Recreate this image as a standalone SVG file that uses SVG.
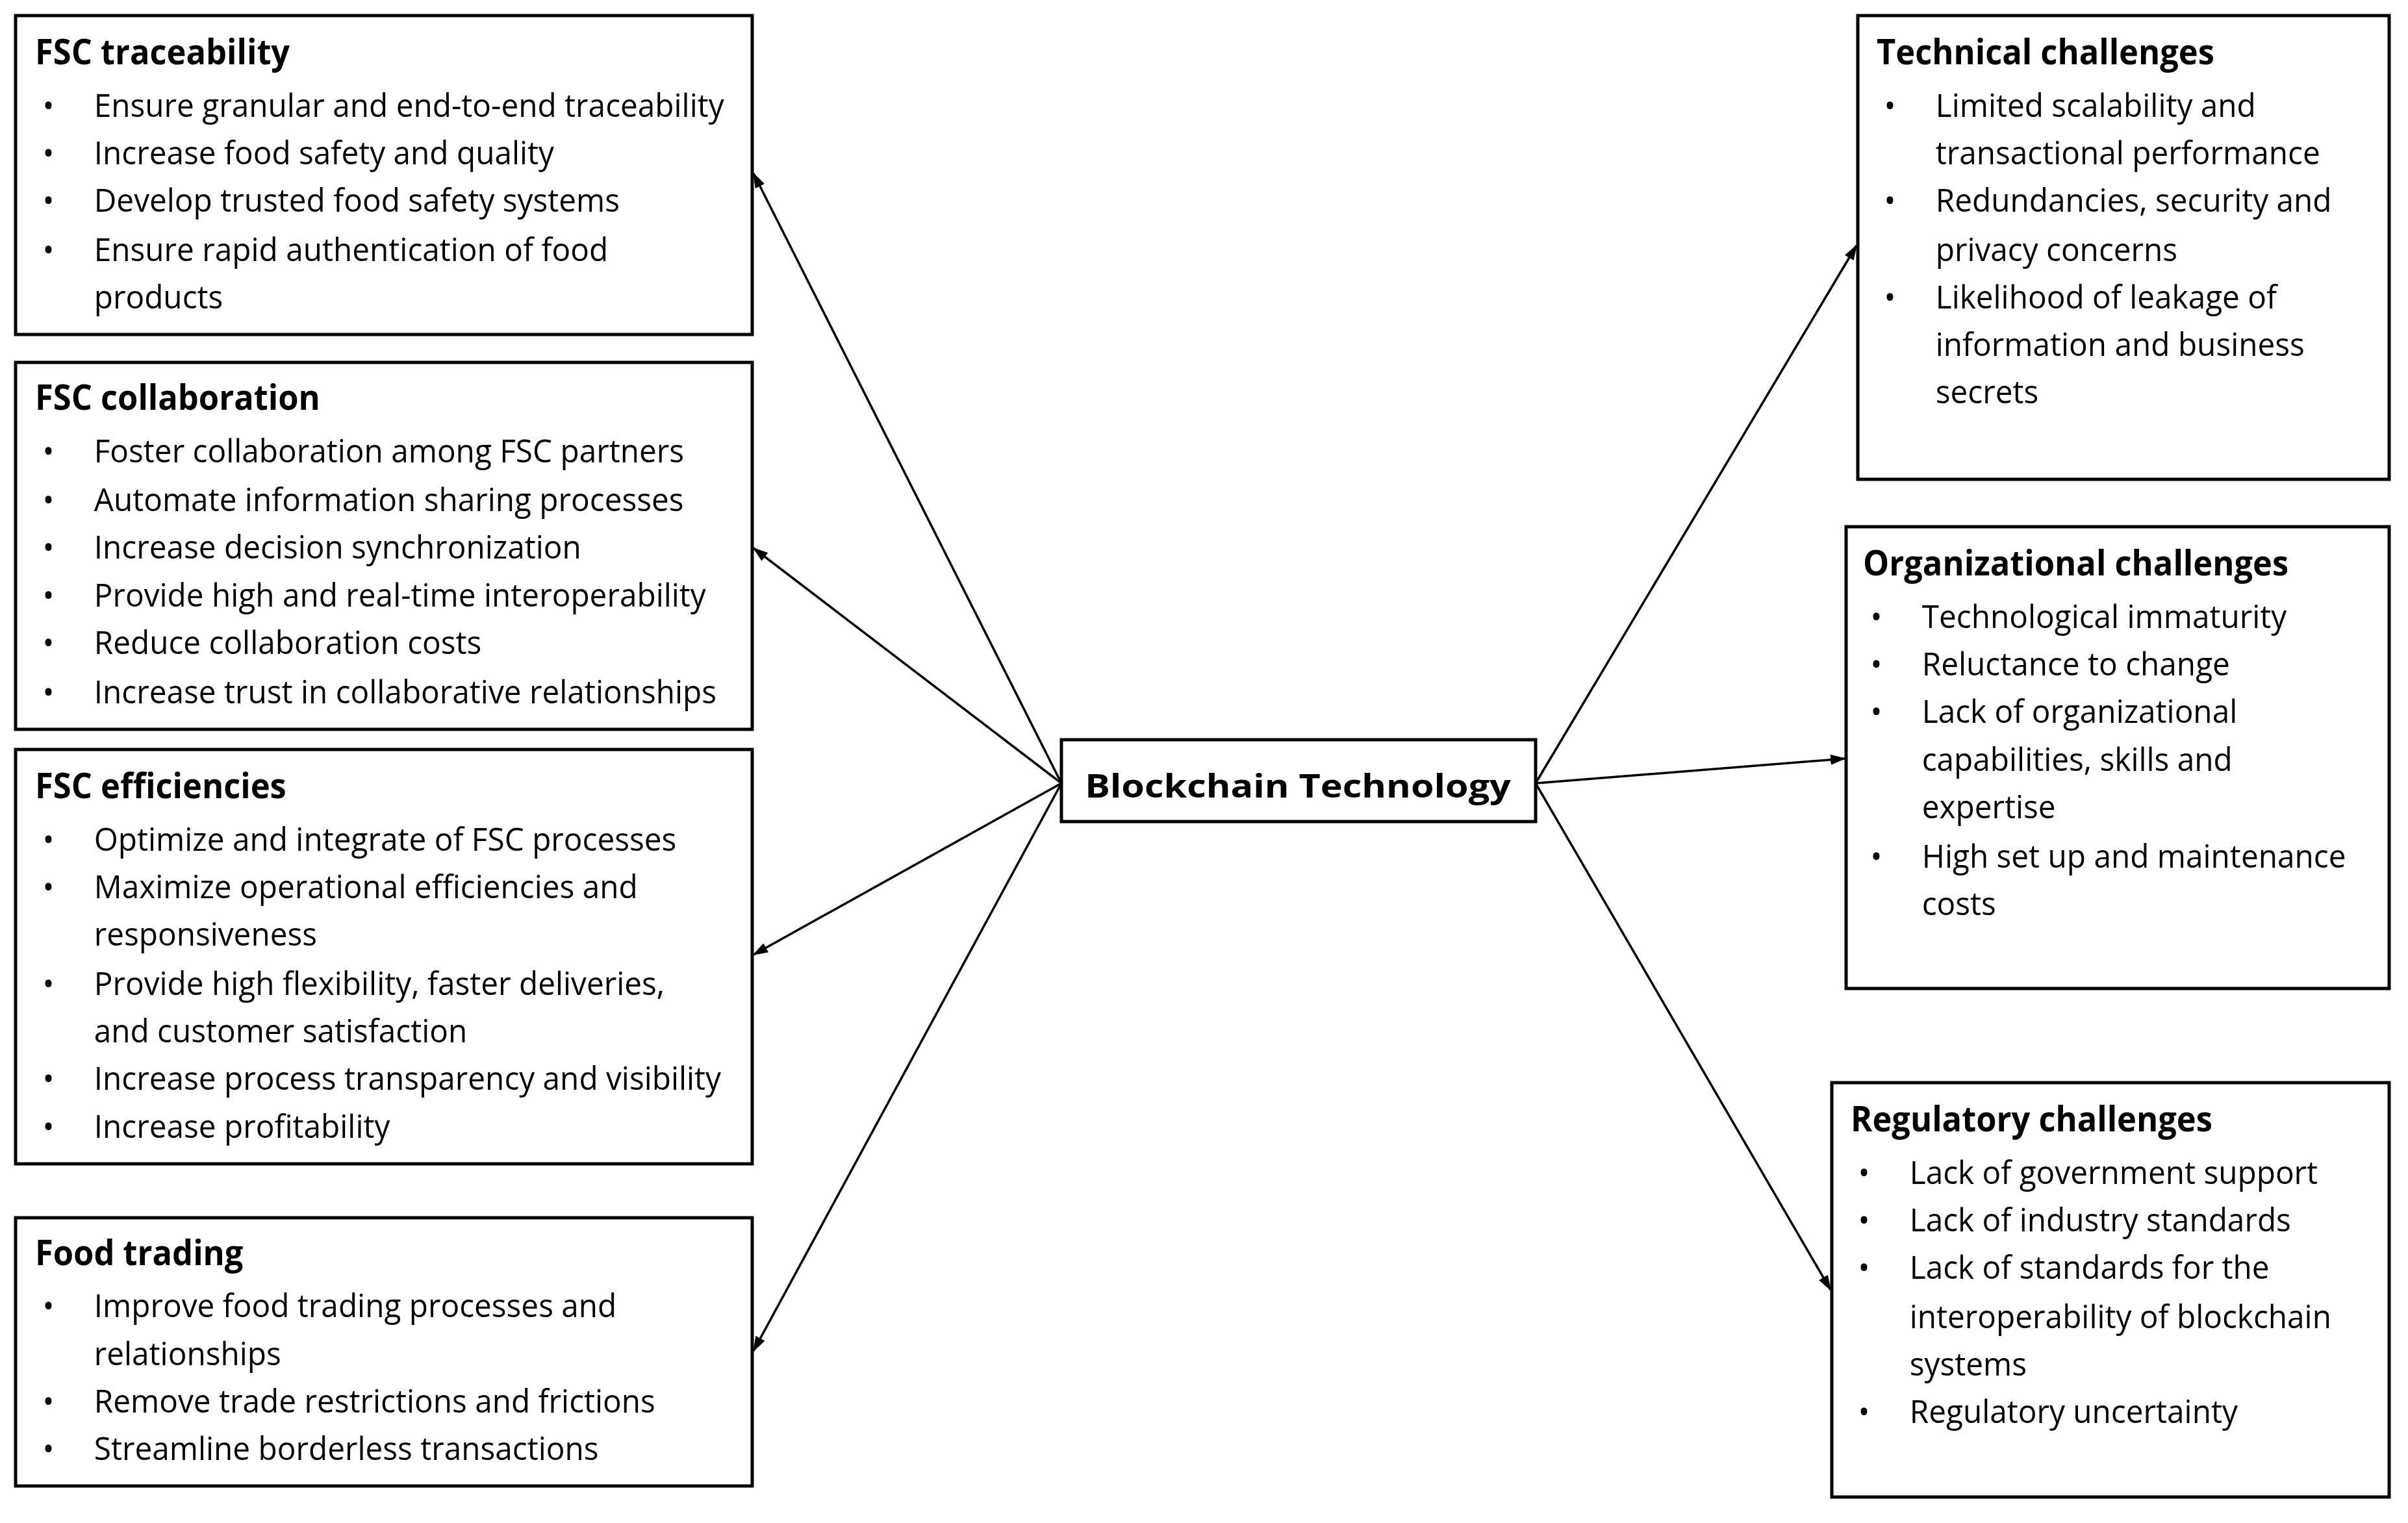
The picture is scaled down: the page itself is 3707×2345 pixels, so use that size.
<svg xmlns="http://www.w3.org/2000/svg" width="3707" height="2345" viewBox="0 0 3707 2345">
<style>
.box{fill:#fff;stroke:#000;stroke-width:5}
text{font-family:"Open Sans","Liberation Sans",sans-serif;font-size:50px;fill:#000}
.t{font-weight:bold;font-size:53px}
.c{stroke:#000;stroke-width:3.5;fill:none;marker-end:url(#a)}
</style>
<defs><marker id="a" markerWidth="24" markerHeight="16" refX="22" refY="8" orient="auto" markerUnits="userSpaceOnUse" viewBox="0 0 24 16"><path d="M0,0 L24,8 L0,16 z" fill="#000"/></marker></defs>
<rect width="3707" height="2345" fill="#fff"/>
<g id="connectors">
<line class="c" x1="1634" y1="1206" x2="1160" y2="267"/>
<line class="c" x1="1634" y1="1206" x2="1160" y2="844"/>
<line class="c" x1="1634" y1="1206" x2="1160" y2="1470"/>
<line class="c" x1="1634" y1="1206" x2="1160" y2="2080"/>
<line class="c" x1="2364" y1="1206" x2="2858" y2="378"/>
<line class="c" x1="2364" y1="1206" x2="2840" y2="1168"/>
<line class="c" x1="2364" y1="1206" x2="2818" y2="1986"/>
</g>
<g id="bt"><rect class="box" x="1634" y="1139" width="730" height="126"/><text x="1998" y="1228" text-anchor="middle" font-weight="bold" font-size="64" transform="translate(1998,0) scale(1.15,1) translate(-1998,0)">Blockchain Technology</text></g>
<g id="trace"><rect class="box" x="24" y="24" width="1134" height="491"/>
<g transform="translate(54,0) scale(0.955,1)"><text class="t" y="99">FSC traceability</text>
<text x="12" y="180">•</text><text x="95" y="180">Ensure granular and end-to-end traceability</text>
<text x="12" y="253">•</text><text x="95" y="253">Increase food safety and quality</text>
<text x="12" y="326">•</text><text x="95" y="326">Develop trusted food safety systems</text>
<text x="12" y="402">•</text><text x="95" y="402">Ensure rapid authentication of food</text>
<text x="95" y="475">products</text></g></g>
<g id="collab"><rect class="box" x="24" y="558" width="1134" height="565"/>
<g transform="translate(54,0) scale(0.955,1)"><text class="t" y="631">FSC collaboration</text>
<text x="12" y="712">•</text><text x="95" y="712">Foster collaboration among FSC partners</text>
<text x="12" y="787">•</text><text x="95" y="787">Automate information sharing processes</text>
<text x="12" y="860">•</text><text x="95" y="860">Increase decision synchronization</text>
<text x="12" y="934">•</text><text x="95" y="934">Provide high and real-time interoperability</text>
<text x="12" y="1007">•</text><text x="95" y="1007">Reduce collaboration costs</text>
<text x="12" y="1083">•</text><text x="95" y="1083">Increase trust in collaborative relationships</text></g></g>
<g id="eff"><rect class="box" x="24" y="1154" width="1134" height="638"/>
<g transform="translate(54,0) scale(0.955,1)"><text class="t" y="1229">FSC efficiencies</text>
<text x="12" y="1310">•</text><text x="95" y="1310">Optimize and integrate of FSC processes</text>
<text x="12" y="1383">•</text><text x="95" y="1383">Maximize operational efficiencies and</text>
<text x="95" y="1456">responsiveness</text>
<text x="12" y="1532">•</text><text x="95" y="1532">Provide high flexibility, faster deliveries,</text>
<text x="95" y="1605">and customer satisfaction</text>
<text x="12" y="1678">•</text><text x="95" y="1678">Increase process transparency and visibility</text>
<text x="12" y="1752">•</text><text x="95" y="1752">Increase profitability</text></g></g>
<g id="food"><rect class="box" x="24" y="1875" width="1134" height="413"/>
<g transform="translate(54,0) scale(0.955,1)"><text class="t" y="1948">Food trading</text>
<text x="12" y="2028">•</text><text x="95" y="2028">Improve food trading processes and</text>
<text x="95" y="2102">relationships</text>
<text x="12" y="2175">•</text><text x="95" y="2175">Remove trade restrictions and frictions</text>
<text x="12" y="2248">•</text><text x="95" y="2248">Streamline borderless transactions</text></g></g>
<g id="tech"><rect class="box" x="2860" y="24" width="818" height="714"/>
<g transform="translate(2889,0) scale(0.955,1)"><text class="t" y="99">Technical challenges</text>
<text x="12" y="180">•</text><text x="95" y="180">Limited scalability and</text>
<text x="95" y="253">transactional performance</text>
<text x="12" y="326">•</text><text x="95" y="326">Redundancies, security and</text>
<text x="95" y="402">privacy concerns</text>
<text x="12" y="475">•</text><text x="95" y="475">Likelihood of leakage of</text>
<text x="95" y="548">information and business</text>
<text x="95" y="621">secrets</text></g></g>
<g id="org"><rect class="box" x="2842" y="811" width="836" height="711"/>
<g transform="translate(2868,0) scale(0.955,1)"><text class="t" y="886">Organizational challenges</text>
<text x="12" y="967">•</text><text x="95" y="967">Technological immaturity</text>
<text x="12" y="1040">•</text><text x="95" y="1040">Reluctance to change</text>
<text x="12" y="1113">•</text><text x="95" y="1113">Lack of organizational</text>
<text x="95" y="1187">capabilities, skills and</text>
<text x="95" y="1260">expertise</text>
<text x="12" y="1336">•</text><text x="95" y="1336">High set up and maintenance</text>
<text x="95" y="1409">costs</text></g></g>
<g id="reg"><rect class="box" x="2820" y="1667" width="858" height="638"/>
<g transform="translate(2849,0) scale(0.955,1)"><text class="t" y="1742">Regulatory challenges</text>
<text x="12" y="1823">•</text><text x="95" y="1823">Lack of government support</text>
<text x="12" y="1896">•</text><text x="95" y="1896">Lack of industry standards</text>
<text x="12" y="1969">•</text><text x="95" y="1969">Lack of standards for the</text>
<text x="95" y="2045">interoperability of blockchain</text>
<text x="95" y="2118">systems</text>
<text x="12" y="2191">•</text><text x="95" y="2191">Regulatory uncertainty</text></g></g>
</svg>
